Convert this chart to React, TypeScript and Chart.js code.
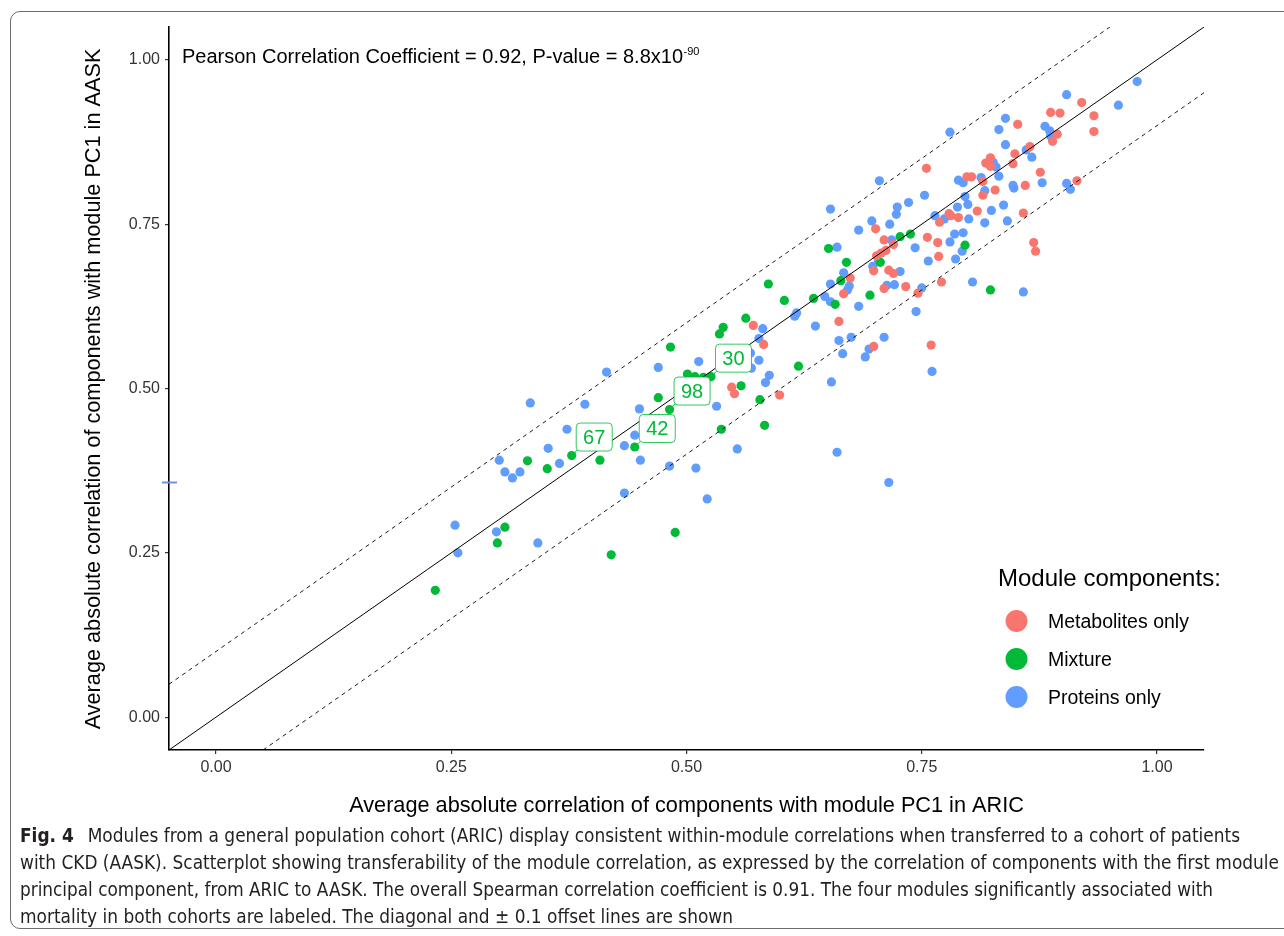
import React, { useEffect, useRef } from 'react';
import { Chart, registerables } from 'chart.js';

Chart.register(...registerables);

// ---------------- data ----------------
const metabolitesX = [0.548, 0.551, 0.599, 0.571, 0.582, 0.662, 0.667, 0.674, 0.699, 0.702, 0.707, 0.701, 0.710, 0.720, 0.712, 0.715, 0.720, 0.699, 0.710, 0.733, 0.746, 0.756, 0.767, 0.768, 0.769, 0.755, 0.760, 0.771, 0.779, 0.781, 0.789, 0.798, 0.803, 0.809, 0.815, 0.815, 0.818, 0.823, 0.823, 0.828, 0.847, 0.849, 0.852, 0.858, 0.860, 0.865, 0.869, 0.871, 0.876, 0.887, 0.889, 0.894, 0.897, 0.915, 0.920, 0.933, 0.933];
const metabolitesY = [0.502, 0.492, 0.490, 0.596, 0.567, 0.602, 0.644, 0.668, 0.679, 0.702, 0.706, 0.743, 0.726, 0.719, 0.710, 0.680, 0.675, 0.564, 0.652, 0.655, 0.645, 0.730, 0.722, 0.701, 0.753, 0.835, 0.566, 0.662, 0.766, 0.763, 0.760, 0.822, 0.822, 0.770, 0.815, 0.794, 0.843, 0.851, 0.838, 0.802, 0.842, 0.857, 0.902, 0.767, 0.809, 0.868, 0.722, 0.709, 0.829, 0.920, 0.876, 0.887, 0.919, 0.816, 0.935, 0.915, 0.891];

const mixtureX = [0.233, 0.299, 0.307, 0.331, 0.352, 0.378, 0.408, 0.420, 0.445, 0.470, 0.482, 0.483, 0.488, 0.501, 0.509, 0.518, 0.526, 0.535, 0.539, 0.537, 0.558, 0.563, 0.578, 0.583, 0.587, 0.604, 0.619, 0.635, 0.651, 0.658, 0.664, 0.670, 0.695, 0.706, 0.727, 0.738, 0.796, 0.823];
const mixtureY = [0.193, 0.265, 0.289, 0.390, 0.378, 0.398, 0.391, 0.247, 0.411, 0.486, 0.468, 0.563, 0.281, 0.522, 0.518, 0.517, 0.518, 0.583, 0.593, 0.438, 0.504, 0.607, 0.483, 0.444, 0.659, 0.634, 0.534, 0.637, 0.713, 0.628, 0.664, 0.692, 0.642, 0.692, 0.731, 0.735, 0.718, 0.650];

const proteinsX = [0.254, 0.257, 0.298, 0.342, 0.301, 0.307, 0.315, 0.323, 0.334, 0.353, 0.365, 0.373, 0.392, 0.415, 0.434, 0.434, 0.445, 0.450, 0.451, 0.470, 0.482, 0.510, 0.513, 0.522, 0.532, 0.554, 0.568, 0.569, 0.577, 0.577, 0.581, 0.588, 0.584, 0.615, 0.617, 0.637, 0.647, 0.653, 0.653, 0.654, 0.660, 0.662, 0.666, 0.667, 0.660, 0.653, 0.673, 0.671, 0.675, 0.683, 0.683, 0.690, 0.694, 0.697, 0.698, 0.704, 0.705, 0.710, 0.713, 0.716, 0.715, 0.718, 0.721, 0.724, 0.723, 0.727, 0.736, 0.743, 0.744, 0.750, 0.753, 0.757, 0.761, 0.764, 0.774, 0.780, 0.780, 0.785, 0.786, 0.788, 0.789, 0.794, 0.793, 0.794, 0.796, 0.799, 0.800, 0.804, 0.813, 0.817, 0.817, 0.824, 0.826, 0.829, 0.832, 0.832, 0.837, 0.839, 0.839, 0.841, 0.847, 0.848, 0.858, 0.861, 0.867, 0.878, 0.881, 0.886, 0.887, 0.904, 0.904, 0.908, 0.959, 0.979];
const proteinsY = [0.292, 0.250, 0.282, 0.265, 0.391, 0.373, 0.364, 0.373, 0.478, 0.409, 0.386, 0.438, 0.476, 0.525, 0.413, 0.341, 0.429, 0.469, 0.391, 0.532, 0.382, 0.379, 0.541, 0.332, 0.473, 0.408, 0.554, 0.531, 0.543, 0.576, 0.591, 0.520, 0.509, 0.610, 0.615, 0.595, 0.640, 0.632, 0.659, 0.510, 0.403, 0.573, 0.553, 0.676, 0.715, 0.773, 0.656, 0.650, 0.578, 0.625, 0.741, 0.548, 0.560, 0.755, 0.686, 0.693, 0.816, 0.578, 0.657, 0.750, 0.357, 0.726, 0.658, 0.776, 0.765, 0.678, 0.783, 0.714, 0.617, 0.653, 0.794, 0.694, 0.526, 0.763, 0.758, 0.890, 0.723, 0.735, 0.697, 0.776, 0.817, 0.813, 0.709, 0.737, 0.792, 0.780, 0.758, 0.662, 0.821, 0.801, 0.752, 0.771, 0.844, 0.837, 0.894, 0.823, 0.779, 0.911, 0.871, 0.755, 0.809, 0.805, 0.647, 0.863, 0.852, 0.813, 0.899, 0.892, 0.884, 0.947, 0.812, 0.803, 0.931, 0.967];

const labeledModules = ['67', '42', '98', '30'];
const labeledX = [0.378, 0.445, 0.482, 0.526];
const labeledY = [0.398, 0.411, 0.468, 0.518];

const xTickValues = [0, 0.25, 0.5, 0.75, 1];
const yTickValues = [0, 0.25, 0.5, 0.75, 1];
const axisMin = -0.05;
const axisMax = 1.05;
const offsetLine = 0.1;
const rugTickY = 0.357;

const seriesNames = ['Metabolites only', 'Mixture', 'Proteins only'];
const seriesColors = ['#F8766D', '#00BA38', '#619CFF'];
const legendTitle = 'Module components:';
const xTitle = 'Average absolute correlation of components with module PC1 in ARIC';
const yTitle = 'Average absolute correlation of components with module PC1 in AASK';
const statText = 'Pearson Correlation Coefficient = 0.92, P-value = 8.8x10';
const statExp = '-90';

const captionLines = [
  'Modules from a general population cohort (ARIC) display consistent within-module correlations when transferred to a cohort of patients',
  'with CKD (AASK). Scatterplot showing transferability of the module correlation, as expressed by the correlation of components with the first module',
  'principal component, from ARIC to AASK. The overall Spearman correlation coefficient is 0.91. The four modules significantly associated with',
  'mortality in both cohorts are labeled. The diagonal and \u00b1 0.1 offset lines are shown',
];
const captionWidths = [1220, 1259, 1193, 713];

const FONT = '"Liberation Sans", Arial, Helvetica, sans-serif';

function pts(xs: number[], ys: number[]) {
  return xs.map((x, i) => ({ x, y: ys[i] }));
}

const overlayPlugin = {
  id: 'overlayPlugin',
  afterDatasetsDraw(chart: any) {
    const { ctx, scales } = chart;
    const x = scales.x;
    const y = scales.y;
    ctx.save();
    labeledModules.forEach((lab, i) => {
      const px = x.getPixelForValue(labeledX[i]);
      const py = y.getPixelForValue(labeledY[i]);
      const bw = 36;
      const bh = 28;
      const bx = px + 4.5;
      const by = py - 4.5 - bh;
      ctx.strokeStyle = '#00BA38';
      ctx.lineWidth = 1;
      ctx.beginPath();
      ctx.moveTo(px, py);
      ctx.lineTo(bx + 1, by + bh - 1);
      ctx.stroke();
      ctx.beginPath();
      (ctx as any).roundRect(bx, by, bw, bh, 4);
      ctx.fillStyle = '#ffffff';
      ctx.fill();
      ctx.strokeStyle = 'rgba(0,186,56,0.8)';
      ctx.stroke();
      ctx.fillStyle = '#00BA38';
      ctx.font = `20px ${FONT}`;
      ctx.textAlign = 'center';
      ctx.textBaseline = 'alphabetic';
      ctx.fillText(lab, bx + bw / 2, by + bh / 2 + 7);
    });
    ctx.restore();
  },
  afterDraw(chart: any) {
    const { ctx, scales } = chart;
    const y = scales.y;
    ctx.save();
    // rug-like tick on the left axis
    const ry = y.getPixelForValue(rugTickY);
    ctx.strokeStyle = '#6f93d6';
    ctx.lineWidth = 2;
    ctx.beginPath();
    ctx.moveTo(162, ry);
    ctx.lineTo(177, ry);
    ctx.stroke();

    // axis titles
    ctx.fillStyle = '#000';
    ctx.font = `21.7px ${FONT}`;
    ctx.textAlign = 'center';
    ctx.textBaseline = 'alphabetic';
    ctx.fillText(xTitle, 686.5, 812);
    ctx.save();
    ctx.translate(100, 389);
    ctx.rotate(-Math.PI / 2);
    ctx.fillText(yTitle, 0, 0);
    ctx.restore();

    // statistic annotation
    ctx.textAlign = 'left';
    ctx.font = `20px ${FONT}`;
    ctx.fillText(statText, 182, 62.5);
    const w = ctx.measureText(statText).width;
    ctx.font = `11px ${FONT}`;
    ctx.fillText(statExp, 182 + w + 0.5, 55);

    // legend
    ctx.font = `24px ${FONT}`;
    ctx.fillText(legendTitle, 998, 586);
    const ly = [621, 659, 697];
    seriesNames.forEach((name, i) => {
      ctx.beginPath();
      ctx.arc(1016.5, ly[i], 11, 0, Math.PI * 2);
      ctx.fillStyle = seriesColors[i];
      ctx.fill();
      ctx.fillStyle = '#000';
      ctx.font = `19.5px ${FONT}`;
      ctx.fillText(name, 1048, ly[i] + 7.2);
    });
    ctx.restore();
  },
};

export default function App() {
  const canvasRef = useRef<HTMLCanvasElement | null>(null);
  const lineRefs = useRef<(HTMLSpanElement | null)[]>([]);

  useEffect(() => {
    document.body.style.margin = '0';
    const canvas = canvasRef.current;
    if (!canvas) return;
    const tickFont = { family: FONT, size: 16 };
    const chart = new Chart(canvas, {
      type: 'scatter',
      data: {
        datasets: [
          {
            label: 'diagonal',
            data: [{ x: axisMin, y: axisMin }, { x: axisMax, y: axisMax }],
            showLine: true,
            borderColor: '#000',
            borderWidth: 1,
            pointRadius: 0,
            order: 0,
          },
          {
            label: 'upper',
            data: [{ x: axisMin, y: axisMin + offsetLine }, { x: axisMax - offsetLine, y: axisMax }],
            showLine: true,
            borderColor: '#000',
            borderWidth: 0.9,
            borderDash: [4, 4],
            pointRadius: 0,
            order: 0,
          },
          {
            label: 'lower',
            data: [{ x: axisMin + offsetLine, y: axisMin }, { x: axisMax, y: axisMax - offsetLine }],
            showLine: true,
            borderColor: '#000',
            borderWidth: 0.9,
            borderDash: [4, 4],
            pointRadius: 0,
            order: 0,
          },
          {
            label: seriesNames[2],
            data: pts(proteinsX, proteinsY),
            backgroundColor: seriesColors[2],
            pointRadius: 4.6,
            borderWidth: 0,
            order: 3,
          },
          {
            label: seriesNames[1],
            data: pts(mixtureX, mixtureY),
            backgroundColor: seriesColors[1],
            pointRadius: 4.6,
            borderWidth: 0,
            order: 2,
          },
          {
            label: seriesNames[0],
            data: pts(metabolitesX, metabolitesY),
            backgroundColor: seriesColors[0],
            pointRadius: 4.6,
            borderWidth: 0,
            order: 1,
          },
        ],
      },
      options: {
        animation: false,
        responsive: false,
        events: [],
        layout: { padding: { top: 27, right: 80, bottom: 0, left: 0 } },
        plugins: { legend: { display: false }, tooltip: { enabled: false }, title: { display: false } },
        scales: {
          x: {
            type: 'linear',
            min: axisMin,
            max: axisMax,
            afterFit: (s: any) => { s.height = 936 - 750; },
            afterBuildTicks: (s: any) => { s.ticks = xTickValues.map((v) => ({ value: v })); },
            border: { display: true, color: '#000', width: 1.6 },
            grid: { display: true, drawOnChartArea: false, drawTicks: true, tickLength: 4, color: '#333', lineWidth: 1.2 },
            ticks: { font: tickFont, color: '#333', padding: 4, autoSkip: false, maxRotation: 0, callback: (v: any) => Number(v).toFixed(2) },
          },
          y: {
            type: 'linear',
            min: axisMin,
            max: axisMax,
            afterFit: (s: any) => { s.width = 169; },
            afterBuildTicks: (s: any) => { s.ticks = yTickValues.map((v) => ({ value: v })); },
            border: { display: true, color: '#000', width: 1.6 },
            grid: { display: true, drawOnChartArea: false, drawTicks: true, tickLength: 4, color: '#333', lineWidth: 1.2 },
            ticks: { font: tickFont, color: '#333', padding: 5, autoSkip: false, callback: (v: any) => Number(v).toFixed(2) },
          },
        },
      },
      plugins: [overlayPlugin],
    } as any);

    // fit caption lines to their widths
    lineRefs.current.forEach((el, i) => {
      if (!el) return;
      el.style.transform = 'none';
      const natural = el.getBoundingClientRect().width;
      if (natural > 0) el.style.transform = `scaleX(${captionWidths[i] / natural})`;
    });

    return () => chart.destroy();
  }, []);

  const captionFont = '"Liberation Sans Narrow", "DejaVu Sans Condensed", "Roboto Condensed", Roboto, sans-serif';

  return (
    <div style={{ position: 'absolute', left: 0, top: 0, width: 1284, height: 936, overflow: 'hidden', background: '#fff' }}>
      <div
        style={{
          position: 'absolute',
          left: 10,
          top: 11,
          width: 1300,
          height: 918,
          border: '1px solid #6b6b6b',
          borderRadius: 10,
          boxSizing: 'border-box',
        }}
      />
      <canvas ref={canvasRef} width={1284} height={936} style={{ position: 'absolute', left: 0, top: 0, display: 'block' }} />
      <div style={{ position: 'absolute', left: 20, top: 822, fontFamily: captionFont, fontSize: 19, lineHeight: '27px', color: '#231f20' }}>
        {captionLines.map((line, i) => (
          <div key={i} style={{ whiteSpace: 'nowrap', height: 27 }}>
            <span
              ref={(el) => { lineRefs.current[i] = el; }}
              style={{ display: 'inline-block', transformOrigin: 'left center', whiteSpace: 'nowrap' }}
            >
              {i === 0 ? (
                <>
                  <b>Fig. 4</b>
                  {'\u2002 '}
                  {line}
                </>
              ) : (
                line
              )}
            </span>
          </div>
        ))}
      </div>
    </div>
  );
}
